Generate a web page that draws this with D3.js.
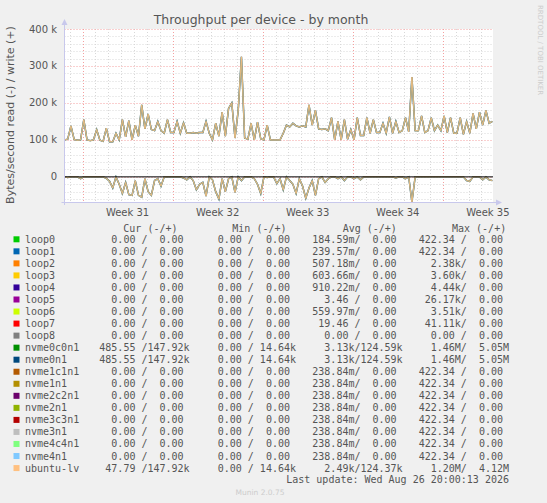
<!DOCTYPE html>
<html><head><meta charset="utf-8">
<script src="https://cdn.jsdelivr.net/npm/d3@7/dist/d3.min.js"></script>
<style>body{margin:0;background:#f0f0f0}svg{display:block}</style>
</head><body><svg id="c" width="547" height="503"></svg>
<script>
// write (+) bytes/s in k, 4 samples per day
const writeK = [100,102,138,101, 99,100,155,100, 98,100,128,99, 96,132,95,95, 118,100,155,108, 152,100,140,110,
 195,130,170,128, 125,150,125,118, 155,120,120,150, 118,146,118,118, 120,118,120,120, 150,118,100,145,
 110,175,110,185, 200,105,180,325, 105,102,145,100, 148,103,100,140, 100,100,100,100, 118,140,135,145,
 138,135,138,135, 195,140,180,130, 128,130,125,160, 100,150,100,155, 102,128,100,160, 112,112,160,118,
 155,120,120,145, 118,162,118,150, 120,125,160,122, 270,125,125,165, 120,125,160,125, 140,125,165,120,
 160,118,118,160, 115,150,118,172, 130,175,140,180, 145,150];
// read (-) bytes/s in k
const readK = [0,-2,0,0, 0,-5,0,0, 0,0,0,0, 0,-4,-12,-30, 0,-20,-45,-15, -48,-50,-10,-50, -55,-5,-40,-50,
 -10,-5,-25,0, 0,0,0,0, 0,-3,-8,0, -10,-35,-20,-15, -52,0,-8,-40, -60,-5,-40,-5, 0,-42,0,-10, 0,0,0,-5,
 -20,-45,0,-2, 0,0,-18,-5, -35,0,-10,-20, -45,-5,-25,-58, -30,-10,-50,-5, 0,-15,-5,0, 0,-5,0,-10,
 0,0,-5,0, -8,0,0,0, 0,0,0,0, 0,0,0,-3, 0,0,-5,0, -68,0,0,0, 0,0,0,0, 0,0,0,0, 0,0,0,0, 0,-10,-12,0,
 0,0,-8,0, -8,-10];
const yTicks = [0,100,200,300,400];
const yTickLabels = ["0","100 k","200 k","300 k","400 k"];
const weekStarts = [1.4,8.4,15.4,22.4,29.4];
const weekLabels = ["Week 31","Week 32","Week 33","Week 34","Week 35"];
const names = ["loop0","loop1","loop2","loop3","loop4","loop5","loop6","loop7","loop8","nvme0c0n1","nvme0n1",
 "nvme1c1n1","nvme1n1","nvme2c2n1","nvme2n1","nvme3c3n1","nvme3n1","nvme4c4n1","nvme4n1","ubuntu-lv"];
const colors = ["#00cc00","#0066b3","#ff8000","#ffcc00","#330099","#990099","#ccff00","#ff0000","#808080","#008f00",
 "#00487d","#b35a00","#b38f00","#6b006b","#8fb300","#b30000","#bebebe","#80ff80","#80c9ff","#ffc080"];
const cur = ["  0.00 /  0.00 ","  0.00 /  0.00 ","  0.00 /  0.00 ","  0.00 /  0.00 ","  0.00 /  0.00 ","  0.00 /  0.00 ",
 "  0.00 /  0.00 ","  0.00 /  0.00 ","  0.00 /  0.00 ","485.55 /147.92k","485.55 /147.92k","  0.00 /  0.00 ","  0.00 /  0.00 ",
 "  0.00 /  0.00 ","  0.00 /  0.00 ","  0.00 /  0.00 ","  0.00 /  0.00 ","  0.00 /  0.00 ","  0.00 /  0.00 "," 47.79 /147.92k"];
const mins = names.map((n,i)=> (i===9||i===10||i===19) ? "  0.00 / 14.64k" : "  0.00 /  0.00 ");
const avgs = ["184.59m/  0.00 ","239.57m/  0.00 ","507.18m/  0.00 ","603.66m/  0.00 ","910.22m/  0.00 ","  3.46 /  0.00 ",
 "559.97m/  0.00 "," 19.46 /  0.00 ","  0.00 /  0.00 ","  3.13k/124.59k","  3.13k/124.59k","238.84m/  0.00 ","238.84m/  0.00 ",
 "238.84m/  0.00 ","238.84m/  0.00 ","238.84m/  0.00 ","238.84m/  0.00 ","238.84m/  0.00 ","238.84m/  0.00 ","  2.49k/124.37k"];
const maxs = ["422.34 /  0.00 ","422.34 /  0.00 ","  2.38k/  0.00 ","  3.60k/  0.00 ","  4.44k/  0.00 "," 26.17k/  0.00 ",
 "  3.51k/  0.00 "," 41.11k/  0.00 ","  0.00 /  0.00 ","  1.46M/  5.05M","  1.46M/  5.05M","422.34 /  0.00 ","422.34 /  0.00 ",
 "422.34 /  0.00 ","422.34 /  0.00 ","422.34 /  0.00 ","422.34 /  0.00 ","422.34 /  0.00 ","422.34 /  0.00 ","  1.20M/  4.12M"];

const svg = d3.select("#c");
const L=64.5, R=493, T=29, B=202;
const x = d3.scaleLinear().domain([0,33.3]).range([L,R]);
const y = d3.scaleLinear().domain([-68,400]).range([B,T]);
const mono = "DejaVu Sans Mono", sans="DejaVu Sans";

svg.append("rect").attr("x",L).attr("y",T).attr("width",R-L).attr("height",B-T).attr("fill","#fff");
const g = svg.append("g");
for (let v=-60; v<=400; v+=20) if (v%100!==0)
  g.append("line").attr("x1",L).attr("x2",R).attr("y1",Math.round(y(v))+0.5).attr("y2",Math.round(y(v))+0.5)
   .attr("stroke","#d8d8d8").attr("stroke-dasharray","1,2");
for (let d=0.4; d<33.3; d+=1)
  g.append("line").attr("x1",Math.round(x(d))+0.5).attr("x2",Math.round(x(d))+0.5).attr("y1",T).attr("y2",B)
   .attr("stroke","#d8d8d8").attr("stroke-dasharray","1,2");
yTicks.forEach(v=>g.append("line").attr("x1",L).attr("x2",R).attr("y1",Math.round(y(v))+0.5).attr("y2",Math.round(y(v))+0.5)
   .attr("stroke","#f4a0a0").attr("stroke-dasharray","1,2"));
weekStarts.forEach(d=>g.append("line").attr("x1",Math.round(x(d))+0.5).attr("x2",Math.round(x(d))+0.5).attr("y1",T).attr("y2",B)
   .attr("stroke","#f4a0a0").attr("stroke-dasharray","1,2"));

const pts = a => a.map((v,i)=>[i*0.25,v]);
const ln = d3.line().x(d=>x(d[0])).y(d=>y(d[1]));
[writeK, readK].forEach(a=>{
  svg.append("path").attr("d",ln(pts(a))).attr("fill","none").attr("stroke","#00487d").attr("stroke-width",1.4);
  svg.append("path").attr("d",ln(pts(a))).attr("fill","none").attr("stroke","#9ea783").attr("stroke-width",1.5);
  svg.append("path").attr("d",ln(pts(a))).attr("fill","none").attr("stroke","#ffc080").attr("stroke-width",0.7);
});
svg.append("line").attr("x1",L).attr("x2",R).attr("y1",y(0)).attr("y2",y(0)).attr("stroke","#000").attr("stroke-width",1);

svg.append("line").attr("x1",L).attr("x2",L).attr("y1",B+3).attr("y2",T-6).attr("stroke","#c8c8ec");
svg.append("path").attr("d",`M${L-3},${T-4}L${L},${T-10}L${L+3},${T-4}Z`).attr("fill","#c8c8ec");
svg.append("line").attr("x1",L-3).attr("x2",R+4).attr("y1",B+0.5).attr("y2",B+0.5).attr("stroke","#c8c8ec");
svg.append("path").attr("d",`M${R+3},${B-2.5}L${R+9},${B+0.5}L${R+3},${B+3.5}Z`).attr("fill","#c8c8ec");

yTicks.forEach((v,i)=>svg.append("text").attr("x",57).attr("y",y(v)+3.5).attr("text-anchor","end")
  .attr("font-family",sans).attr("font-size",10).attr("fill","#555").text(yTickLabels[i]));
weekStarts.forEach((d,i)=>svg.append("text").attr("x",x(d+3.5)).attr("y",216).attr("text-anchor","middle")
  .attr("font-family",sans).attr("font-size",10).attr("fill","#555").text(weekLabels[i]));

svg.append("text").attr("x",261).attr("y",24).attr("text-anchor","middle").attr("font-family",sans)
  .attr("font-size",12.5).attr("fill","#555").text("Throughput per device - by month");
svg.append("text").attr("transform","translate(14,115) rotate(-90)").attr("text-anchor","middle")
  .attr("font-family",sans).attr("font-size",11).attr("fill","#555").text("Bytes/second read (-) / write (+)");
svg.append("text").attr("transform","translate(538,5) rotate(90)").attr("font-family",sans)
  .attr("font-size",7).attr("fill","#ccc").text("RRDTOOL / TOBI OETIKER");

const hdrs=[["Cur (-/+)",123.3],["Min (-/+)",232.3],["Avg (-/+)",342.7],["Max (-/+)",452]];
hdrs.forEach(h=>svg.append("text").attr("x",h[1]).attr("y",231.5).attr("font-family",mono).attr("font-size",10)
  .attr("fill","#555").text(h[0]));
const colX=[99.3,205.7,312.3,418.7];
names.forEach((n,i)=>{
  const cy = 239.3 + i*12.04;
  svg.append("rect").attr("x",13.5).attr("y",cy-3).attr("width",6).attr("height",6).attr("fill",colors[i]);
  svg.append("text").attr("x",25).attr("y",cy+3.5).attr("font-family",mono).attr("font-size",10).attr("fill","#555").text(n);
  [cur[i],mins[i],avgs[i],maxs[i]].forEach((s,j)=>svg.append("text").attr("x",colX[j]).attr("y",cy+3.5)
    .attr("xml:space","preserve").style("white-space","pre").attr("font-family",mono).attr("font-size",10).attr("fill","#555").text(s));
});
svg.append("text").attr("x",509).attr("y",483).attr("text-anchor","end").attr("font-family",mono).attr("font-size",10)
  .attr("fill","#555").text("Last update: Wed Aug 26 20:00:13 2026");
svg.append("text").attr("x",260).attr("y",495).attr("text-anchor","middle").attr("font-family",sans).attr("font-size",7.5)
  .attr("fill","#ccc").text("Munin 2.0.75");
</script></body></html>
